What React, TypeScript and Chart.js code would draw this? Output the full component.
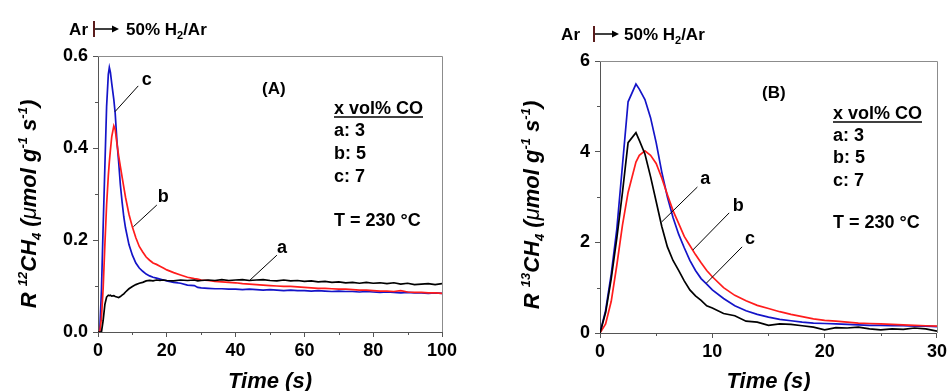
import React, { useEffect, useRef } from "react";
import { Chart, registerables } from "chart.js";
Chart.register(...registerables);

const FONT = "'Liberation Sans', Arial, Helvetica, sans-serif";

// ---------- Panel A data (12CH4, 0-100 s) ----------
const timeA = [0, 0.5, 1, 1.5, 2, 2.5, 3, 3.3, 3.6, 4, 4.6, 5, 5.5, 6, 6.5, 7, 7.5, 8, 9, 10, 11, 12, 13, 14, 15, 16, 17, 18, 19, 20, 22, 24, 26, 28, 29, 30, 32, 34, 36, 38, 40, 42, 44, 46, 48, 50, 52, 54, 56, 58, 60, 62, 64, 66, 68, 70, 72, 74, 76, 78, 80, 82, 84, 86, 88, 90, 92, 94, 96, 98, 100];
const a12 = [0, 0, 0, 0.025, 0.06, 0.076, 0.08, 0.079, 0.08, 0.078, 0.079, 0.077, 0.076, 0.075, 0.077, 0.08, 0.083, 0.087, 0.094, 0.099, 0.103, 0.106, 0.108, 0.111, 0.112, 0.111, 0.113, 0.112, 0.113, 0.112, 0.111, 0.113, 0.112, 0.113, 0.111, 0.112, 0.113, 0.112, 0.114, 0.112, 0.113, 0.114, 0.112, 0.113, 0.114, 0.112, 0.111, 0.113, 0.111, 0.112, 0.11, 0.111, 0.109, 0.11, 0.108, 0.109, 0.107, 0.108, 0.106, 0.108, 0.106, 0.107, 0.105, 0.107, 0.104, 0.106, 0.103, 0.104, 0.105, 0.103, 0.105];
const b12 = [0, 0, 0.03, 0.095, 0.19, 0.276, 0.34, 0.37, 0.395, 0.425, 0.448, 0.44, 0.41, 0.383, 0.36, 0.337, 0.315, 0.293, 0.256, 0.228, 0.205, 0.186, 0.174, 0.163, 0.156, 0.15, 0.147, 0.143, 0.139, 0.135, 0.129, 0.124, 0.119, 0.116, 0.115, 0.113, 0.112, 0.11, 0.109, 0.108, 0.107, 0.105, 0.104, 0.103, 0.102, 0.101, 0.1, 0.099, 0.099, 0.098, 0.097, 0.096, 0.095, 0.095, 0.094, 0.093, 0.093, 0.092, 0.091, 0.091, 0.09, 0.089, 0.089, 0.088, 0.09, 0.087, 0.086, 0.086, 0.085, 0.085, 0.084];
const c12 = [0, 0, 0.09, 0.23, 0.36, 0.49, 0.56, 0.575, 0.565, 0.54, 0.505, 0.475, 0.415, 0.37, 0.32, 0.283, 0.25, 0.226, 0.19, 0.167, 0.15, 0.139, 0.132, 0.126, 0.122, 0.119, 0.117, 0.115, 0.113, 0.111, 0.108, 0.106, 0.102, 0.101, 0.097, 0.096, 0.095, 0.094, 0.094, 0.093, 0.093, 0.092, 0.093, 0.092, 0.091, 0.092, 0.091, 0.09, 0.091, 0.09, 0.09, 0.089, 0.09, 0.089, 0.088, 0.089, 0.088, 0.088, 0.087, 0.088, 0.087, 0.086, 0.087, 0.086, 0.085, 0.086, 0.085, 0.085, 0.084, 0.085, 0.084];

// ---------- Panel B data (13CH4, 0-30 s) ----------
const timeB = [0, 0.5, 1, 1.5, 2, 2.5, 3.2, 3.5, 4, 4.5, 5, 5.5, 6, 6.5, 7, 7.5, 8, 8.5, 9, 9.5, 10, 11, 12, 13, 14, 15, 16, 17, 18, 19, 20, 21, 22, 23, 24, 25, 26, 27, 28, 29, 30];
const a13 = [0, 0.45, 1.2, 2.1, 3.1, 4.2, 4.42, 4.25, 3.95, 3.45, 2.9, 2.35, 1.9, 1.6, 1.38, 1.15, 0.95, 0.82, 0.72, 0.6, 0.55, 0.43, 0.38, 0.26, 0.24, 0.17, 0.2, 0.19, 0.16, 0.13, 0.07, 0.12, 0.11, 0.13, 0.09, 0.07, 0.09, 0.08, 0.11, 0.09, 0.04];
const b13 = [0, 0.2, 0.7, 1.5, 2.38, 3.1, 3.77, 3.92, 4.02, 3.92, 3.74, 3.42, 3.05, 2.7, 2.42, 2.13, 1.93, 1.73, 1.55, 1.38, 1.24, 1.0, 0.83, 0.71, 0.61, 0.54, 0.47, 0.41, 0.36, 0.31, 0.28, 0.26, 0.24, 0.22, 0.21, 0.2, 0.19, 0.18, 0.17, 0.16, 0.15];
const c13 = [0, 0.5, 1.3, 2.3, 3.7, 5.1, 5.49, 5.38, 5.15, 4.75, 4.2, 3.55, 3.0, 2.55, 2.18, 1.88, 1.6, 1.38, 1.2, 1.08, 0.95, 0.76, 0.6, 0.49, 0.41, 0.35, 0.3, 0.27, 0.24, 0.22, 0.21, 0.2, 0.19, 0.18, 0.17, 0.17, 0.16, 0.16, 0.15, 0.15, 0.14];

// ---------- ticks ----------
const xTicksA = [0, 20, 40, 60, 80, 100];
const xMinorA = [10, 30, 50, 70, 90];
const yTicksA = [0, 0.2, 0.4, 0.6];
const yMinorA = [0.1, 0.3, 0.5];
const xTicksB = [0, 10, 20, 30];
const xMinorB = [5, 15, 25];
const yTicksB = [0, 2, 4, 6];
const yMinorB = [1, 3, 5];

// ---------- text ----------
const seriesNames = ["a", "b", "c"];
const seriesColors = ["#000000", "#ff1c1c", "#1414c8"];
const legendTitle = "x vol% CO";
const legendItems = ["a: 3", "b: 5", "c: 7"];
const tempLabel = "T = 230 \u00B0C";
const xTitle = "Time (s)";

// curve labels [t, v] for label and leader line (data units)
const labelsA = [
  { name: "a", at: [53.5, 0.183], from: [52.0, 0.167], to: [44.2, 0.113] },
  { name: "b", at: [19.0, 0.294], from: [17.1, 0.276], to: [10.3, 0.229] },
  { name: "c", at: [14.2, 0.548], from: [11.7, 0.535], to: [4.94, 0.479] },
];
const labelsB = [
  { name: "a", at: [9.38, 3.4], from: [8.67, 3.22], to: [5.49, 2.45] },
  { name: "b", at: [12.3, 2.8], from: [11.5, 2.65], to: [8.26, 1.83] },
  { name: "c", at: [13.36, 2.07], from: [12.65, 1.9], to: [9.47, 1.1] },
];

type Seg = { t: string; s?: number; dy?: number; style?: string };

function drawRich(ctx: CanvasRenderingContext2D, segs: Seg[], x: number, y: number, base: number, style: string, align: string) {
  const parts = segs.map((sg) => {
    const size = sg.s ?? base;
    const st = sg.style ?? style;
    ctx.font = `${st} ${size}px ${FONT}`;
    return { ...sg, size, st, w: ctx.measureText(sg.t).width };
  });
  const total = parts.reduce((s, p) => s + p.w, 0);
  let cx = align === "center" ? x - total / 2 : align === "right" ? x - total : x;
  ctx.textAlign = "left";
  ctx.textBaseline = "alphabetic";
  for (const p of parts) {
    ctx.font = `${p.st} ${p.size}px ${FONT}`;
    ctx.fillText(p.t, cx, y + (p.dy ?? 0));
    cx += p.w;
  }
  return total;
}

type PanelCfg = {
  time: number[];
  series: number[][];
  xMax: number;
  yMax: number;
  xTicks: number[];
  xMinor: number[];
  yTicks: number[];
  yMinor: number[];
  yDecimals: number;
  iso: string;
  panelTag: string;
  curveLabels: typeof labelsA;
  axisW: number;
  axisH: number;
  pad: { left: number; right: number; top: number; bottom: number };
  yTitleC: [number, number];
  header: { arRight: number; barX: number; arrowEnd: number; textX: number; cy: number };
  tag: { x: number; cy: number };
  legend: { x: number; titleCy: number; underlineY: number; itemsCy: number[]; tempCy: number };
};

const panelA: PanelCfg = {
  time: timeA,
  series: [a12, b12, c12],
  xMax: 100,
  yMax: 0.6,
  xTicks: xTicksA,
  xMinor: xMinorA,
  yTicks: yTicksA,
  yMinor: yMinorA,
  yDecimals: 1,
  iso: "12",
  panelTag: "(A)",
  curveLabels: labelsA,
  axisW: 98,
  axisH: 59,
  pad: { left: 0, right: 33, top: 56, bottom: 0 },
  yTitleC: [28, 204],
  header: { arRight: 88, barX: 94, arrowEnd: 119, textX: 126, cy: 29 },
  tag: { x: 262, cy: 88 },
  legend: { x: 334, titleCy: 108, underlineY: 117, itemsCy: [130, 153, 176], tempCy: 220 },
};

const panelB: PanelCfg = {
  time: timeB,
  series: [a13, b13, c13],
  xMax: 30,
  yMax: 6,
  xTicks: xTicksB,
  xMinor: xMinorB,
  yTicks: yTicksB,
  yMinor: yMinorB,
  yDecimals: 0,
  iso: "13",
  panelTag: "(B)",
  curveLabels: labelsB,
  axisW: 125,
  axisH: 58,
  pad: { left: 0, right: 11, top: 61, bottom: 0 },
  yTitleC: [56, 205],
  header: { arRight: 105, barX: 119, arrowEnd: 144, textX: 149, cy: 34 },
  tag: { x: 287, cy: 92 },
  legend: { x: 358, titleCy: 113, underlineY: 122, itemsCy: [135, 157, 180], tempCy: 222 },
};

function makeChart(canvas: HTMLCanvasElement, cfg: PanelCfg) {
  const datasets = cfg.series.map((vals, i) => ({
    label: seriesNames[i],
    data: cfg.time.map((t, k) => ({ x: t, y: vals[k] })),
    borderColor: seriesColors[i],
    borderWidth: 1.7,
    pointRadius: 0,
    tension: 0,
    fill: false,
  }));

  const overlay = {
    id: "overlay" + cfg.panelTag,
    afterDraw(chart: any) {
      const { ctx, chartArea: ca } = chart;
      const x = chart.scales.x;
      const y = chart.scales.y;
      ctx.save();
      // frame top and right
      ctx.strokeStyle = "#8c8c8c";
      ctx.lineWidth = 1;
      ctx.beginPath();
      ctx.moveTo(ca.left, Math.round(ca.top) + 0.5);
      ctx.lineTo(Math.round(ca.right) + 0.5, Math.round(ca.top) + 0.5);
      ctx.lineTo(Math.round(ca.right) + 0.5, ca.bottom);
      ctx.stroke();
      // minor ticks
      ctx.strokeStyle = "#555";
      ctx.beginPath();
      for (const v of cfg.xMinor) {
        const px = Math.round(x.getPixelForValue(v)) + 0.5;
        ctx.moveTo(px, ca.bottom);
        ctx.lineTo(px, ca.bottom + 3);
      }
      for (const v of cfg.yMinor) {
        const py = Math.round(y.getPixelForValue(v)) + 0.5;
        ctx.moveTo(ca.left - 3, py);
        ctx.lineTo(ca.left, py);
      }
      ctx.stroke();

      ctx.fillStyle = "#000";
      // y title (rotated)
      ctx.save();
      ctx.translate(cfg.yTitleC[0], cfg.yTitleC[1]);
      ctx.rotate(-Math.PI / 2);
      drawRich(
        ctx,
        [
          { t: "R " },
          { t: cfg.iso, s: 13, dy: -9 },
          { t: "CH" },
          { t: "4", s: 13, dy: 5 },
          { t: " (" },
          { t: "\u03BC", style: "italic" },
          { t: "mol g" },
          { t: "-1", s: 13, dy: -9 },
          { t: " s" },
          { t: "-1", s: 13, dy: -9 },
          { t: ")" },
        ],
        0,
        8,
        22,
        "italic bold",
        "center"
      );
      ctx.restore();

      // x title
      drawRich(ctx, [{ t: xTitle }], (ca.left + ca.right) / 2, 388, 22, "italic bold", "center");

      // header: Ar |-> 50% H2/Ar
      const h = cfg.header;
      drawRich(ctx, [{ t: "Ar" }], h.arRight, h.cy + 6, 17, "bold", "right");
      ctx.strokeStyle = "#5a1c1c";
      ctx.lineWidth = 2;
      ctx.beginPath();
      ctx.moveTo(h.barX, h.cy - 8);
      ctx.lineTo(h.barX, h.cy + 8);
      ctx.stroke();
      ctx.strokeStyle = "#000";
      ctx.lineWidth = 1.5;
      ctx.beginPath();
      ctx.moveTo(h.barX + 1, h.cy);
      ctx.lineTo(h.arrowEnd - 6, h.cy);
      ctx.stroke();
      ctx.beginPath();
      ctx.moveTo(h.arrowEnd - 7, h.cy - 3.5);
      ctx.lineTo(h.arrowEnd, h.cy);
      ctx.lineTo(h.arrowEnd - 7, h.cy + 3.5);
      ctx.closePath();
      ctx.fill();
      drawRich(
        ctx,
        [{ t: "50% H" }, { t: "2", s: 11, dy: 4 }, { t: "/Ar" }],
        h.textX,
        h.cy + 6,
        17,
        "bold",
        "left"
      );

      // panel tag
      drawRich(ctx, [{ t: cfg.panelTag }], cfg.tag.x, cfg.tag.cy + 6, 17, "bold", "left");

      // legend block
      const L = cfg.legend;
      const wt = drawRich(ctx, [{ t: legendTitle }], L.x, L.titleCy + 6, 18, "bold", "left");
      ctx.lineWidth = 1.6;
      ctx.beginPath();
      ctx.moveTo(L.x, L.underlineY);
      ctx.lineTo(L.x + wt, L.underlineY);
      ctx.stroke();
      legendItems.forEach((s, i) => {
        drawRich(ctx, [{ t: s }], L.x, L.itemsCy[i] + 6, 18, "bold", "left");
      });
      drawRich(ctx, [{ t: tempLabel }], L.x, L.tempCy + 6, 18, "bold", "left");

      // curve labels and leader lines
      ctx.lineWidth = 1;
      for (const lb of cfg.curveLabels) {
        ctx.beginPath();
        ctx.moveTo(x.getPixelForValue(lb.from[0]), y.getPixelForValue(lb.from[1]));
        ctx.lineTo(x.getPixelForValue(lb.to[0]), y.getPixelForValue(lb.to[1]));
        ctx.stroke();
        drawRich(
          ctx,
          [{ t: lb.name }],
          x.getPixelForValue(lb.at[0]),
          y.getPixelForValue(lb.at[1]) + 5,
          18,
          "bold",
          "center"
        );
      }
      ctx.restore();
    },
  };

  return new Chart(canvas, {
    type: "line",
    data: { datasets },
    options: {
      animation: false,
      responsive: false,
      devicePixelRatio: 1,
      layout: { padding: cfg.pad },
      plugins: { legend: { display: false }, tooltip: { enabled: false } },
      scales: {
        x: {
          type: "linear",
          min: 0,
          max: cfg.xMax,
          afterBuildTicks: (s: any) => {
            s.ticks = cfg.xTicks.map((v) => ({ value: v }));
          },
          afterFit: (s: any) => {
            s.height = cfg.axisH;
          },
          border: { display: true, color: "#555", width: 1 },
          grid: { drawOnChartArea: false, drawTicks: true, tickLength: 5, color: "#555" },
          ticks: {
            color: "#000",
            padding: 3,
            maxRotation: 0,
            autoSkip: false,
            font: { family: FONT, size: 18, weight: "bold" },
            callback: (v: any) => String(v),
          },
        },
        y: {
          type: "linear",
          min: 0,
          max: cfg.yMax,
          afterBuildTicks: (s: any) => {
            s.ticks = cfg.yTicks.map((v) => ({ value: v }));
          },
          afterFit: (s: any) => {
            s.width = cfg.axisW;
          },
          border: { display: true, color: "#555", width: 1 },
          grid: { drawOnChartArea: false, drawTicks: true, tickLength: 5, color: "#555" },
          ticks: {
            color: "#000",
            padding: 5,
            autoSkip: false,
            font: { family: FONT, size: 18, weight: "bold" },
            callback: (v: any) => Number(v).toFixed(cfg.yDecimals),
          },
        },
      },
    },
    plugins: [overlay],
  } as any);
}

function Panel({ cfg, left }: { cfg: PanelCfg; left: number }) {
  const ref = useRef<HTMLCanvasElement>(null);
  useEffect(() => {
    if (!ref.current) return;
    const ch = makeChart(ref.current, cfg);
    return () => ch.destroy();
  }, [cfg]);
  return (
    <canvas
      ref={ref}
      width={475}
      height={391}
      style={{ position: "absolute", left, top: 0, width: 475, height: 391 }}
    />
  );
}

export default function App() {
  return (
    <div style={{ position: "absolute", left: 0, top: 0, width: 950, height: 391, background: "#fff", overflow: "hidden" }}>
      <Panel cfg={panelA} left={0} />
      <Panel cfg={panelB} left={475} />
    </div>
  );
}
